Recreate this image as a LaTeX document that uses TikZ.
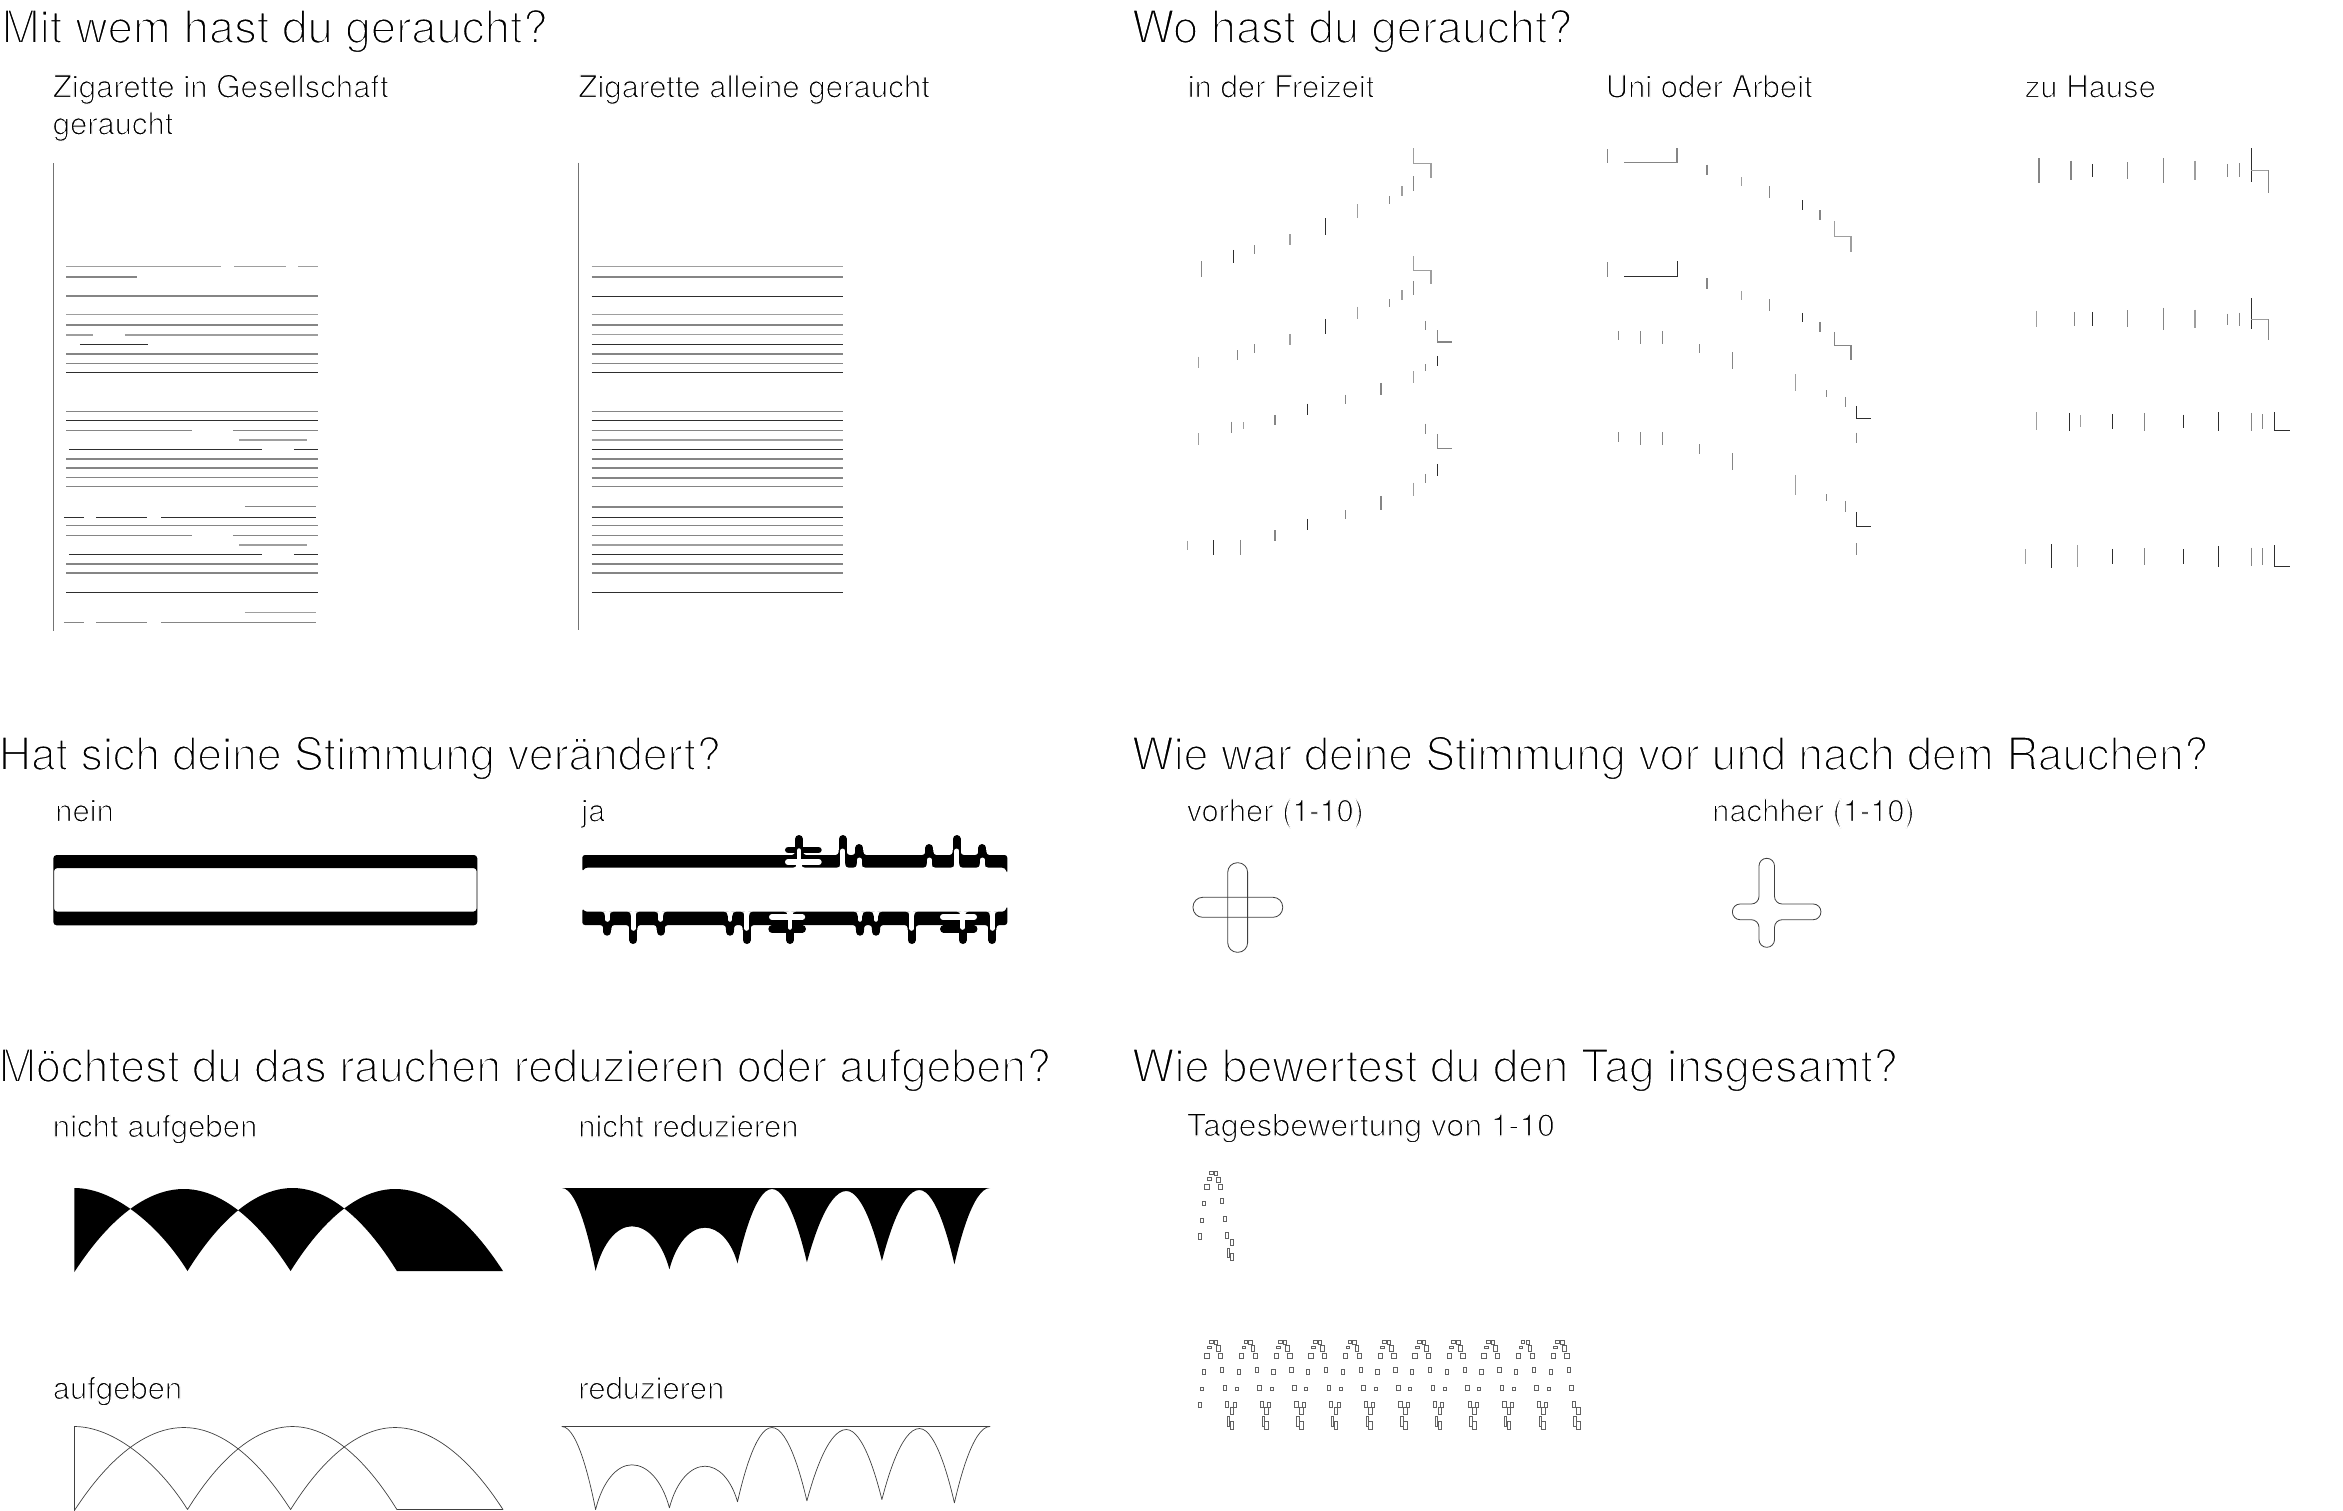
\documentclass[tikz,border=0pt]{standalone}
\usepackage{fontspec}
\setmainfont{TeX Gyre Heros}
\newcommand\thinhead{\special{pdf:code 2 Tr 1 1 1 RG 1.6 w}}
\newcommand\thinsub{\special{pdf:code 2 Tr 1 1 1 RG 0.95 w}}
\newcommand\archleft{(74.4,1188) .. controls (114,1188) and (159.2,1225.4) .. (187.5,1271)
  parabola bend (292.5,1188) (396.9,1271) -- (503,1271)
  parabola bend (395,1189) (290.6,1271) parabola bend (183.8,1189) (74.4,1272) -- cycle}
\newcommand\archright{(561.9,1188) -- (990,1188) parabola[bend at start] (954.4,1264.3)
  parabola bend (919.4,1190) (881.9,1261) parabola bend (846.3,1191) (806.9,1262.3)
  parabola bend (771.9,1189) (737.5,1263.3)
  .. controls (731,1240.2) and (718,1227.7) .. (705,1227.7)
  .. controls (690.8,1227.7) and (676.5,1242.3) .. (669.4,1269.3)
  .. controls (661.9,1241.3) and (646.9,1226.3) .. (631.9,1226.3)
  .. controls (617.4,1226.3) and (602.9,1241.9) .. (595.6,1271)
  parabola[bend at end] (561.9,1188) -- cycle}
\newcommand\dayshape[2]{\foreach \cx/\cy/\wd/\ht in {93/69/11/10, 107/70/10/13, 87/86/11/8, 114/89/11/17,
    80/111/13/15, 121/110/13/15, 72/160/10/14, 126/153/10/16, 66/210/9/11, 134/207/11/16,
    59/258/9/17, 141/256/10/19, 155/277/11/19, 145/308/7/29, 155/320/11/23}
    {\draw[daybox] ({\cx-\wd/2+#1},{\cy-\ht/2+#2}) rectangle ++(\wd,\ht);}}
\begin{document}
\begin{tikzpicture}[x=0.03cm, y=-0.03cm,
    head/.style = {anchor=base west, inner sep=0pt, transform shape, font=\fontsize{38.9}{46}\selectfont\thinhead},
    sub/.style  = {anchor=base west, inner sep=0pt, transform shape, font=\fontsize{26.5}{36}\selectfont\thinsub},
    dk/.style   = {line width=0.65pt, black!82},
    md/.style   = {line width=1pt, black!48},
    lt/.style   = {line width=1.2pt, black!38},
    axisline/.style = {line width=1pt, black!55},
    daybox/.style   = {line width=0.55pt, black!62},
    crossline/.style = {line width=0.7pt, black!75},
    archline/.style  = {line width=0.6pt, black!75, line join=round},
    bump/.style = {line width=0.24cm, line cap=round},
    slot/.style = {line width=0.135cm, line cap=round, white},
  ]
    \useasboundingbox (0,0) rectangle (2343,1511);

    \node[head] (headwho)                 at (1.5,43)    {Mit wem hast du geraucht?};
    \node[head, xscale=0.993] (headwhere)  at (1131.5,43) {Wo hast du geraucht?};
    \node[head, xscale=0.98]  (headmood)   at (-1.5,770)  {Hat sich deine Stimmung verändert?};
    \node[head, xscale=0.977] (headbefore) at (1131.5,770) {Wie war deine Stimmung vor und nach dem Rauchen?};
    \node[head, xscale=0.984] (headquit)   at (-1.5,1082) {Möchtest du das rauchen reduzieren oder aufgeben?};
    \node[head, xscale=0.992] (headday)    at (1131.5,1082) {Wie bewertest du den Tag insgesamt?};

    \node[sub, xscale=1.005] (company)  at (52.5,97.5) {Zigarette in Gesellschaft};
    \node[sub] (company2) at (52.5,134.5) {geraucht};
    \node[sub, xscale=1.008] (alone)    at (578,97.5)   {Zigarette alleine geraucht};
    \node[sub] (freetime) at (1187.5,97.5) {in der Freizeit};
    \node[sub] (work)     at (1605.5,97.5) {Uni oder Arbeit};
    \node[sub] (home)     at (2024.5,97.5) {zu Hause};
    \node[sub] (moodno)   at (55,821.5)   {nein};
    \node[sub] (moodyes)  at (581,821.5)  {ja};
    \node[sub, xscale=0.99] (before)   at (1186.5,821.5) {vorher (1-10)};
    \node[sub, xscale=0.995] (after)    at (1712,821.5) {nachher (1-10)};
    \node[sub, xscale=1.005] (notquit)  at (52.5,1137)  {nicht aufgeben};
    \node[sub] (notless)  at (578,1137) {nicht reduzieren};
    \node[sub] (quit)     at (52.5,1399)  {aufgeben};
    \node[sub] (less)     at (578,1399) {reduzieren};
    \node[sub, xscale=1.03] (rating)   at (1186.5,1136) {Tagesbewertung von 1-10};

    % company lines
    \begin{scope}[shift={(0,140)}, xscale=0.3571, yscale=0.3333]
      \draw[axisline] (150,70) -- (150,1472);
      \foreach \a/\b/\y/\s in {186/620/380/lt, 656/802/380/lt, 835/890/380/lt, 186/385/411/md,
          186/890/468/md, 186/890/524/lt, 186/890/555/md, 186/260/585/lt, 350/890/585/lt,
          224/414/613/dk, 186/890/642/md, 186/890/670/md, 186/890/697/dk, 186/890/814/md,
          186/890/841/dk, 186/538/871/md, 652/890/871/md, 670/861/900/lt, 193/735/928/dk,
          823/890/928/dk, 186/890/957/md, 186/890/984/md, 186/890/1013/md, 186/890/1039/md,
          686/886/1100/md, 179/234/1132/dk, 269/413/1132/dk, 451/886/1132/dk, 186/890/1156/md,
          186/538/1186/md, 652/890/1186/md, 670/861/1215/lt, 193/735/1243/dk, 823/890/1243/dk,
          186/890/1272/md, 186/890/1299/md, 186/890/1357/dk, 686/886/1418/lt, 179/234/1448/md,
          269/413/1448/md, 451/886/1448/md}
        {\draw[\s] (\a,\y) -- (\b,\y);}
    \end{scope}

    % alone lines
    \begin{scope}[shift={(570,250)}, scale=0.3333]
      \draw[axisline] (25,-262) -- (25,1140);
      \foreach \y/\s in {50/lt, 81/md, 139/dk, 194/lt, 225/md, 254/lt, 283/dk, 312/md, 340/md,
          367/dk, 484/md, 511/dk, 541/md, 570/lt, 598/dk, 627/md, 654/md, 684/md, 710/md,
          771/md, 802/dk, 826/md, 856/md, 885/lt, 913/dk, 942/md, 969/md, 1027/dk}
        {\draw[\s] (65,\y) -- (820,\y);}
    \end{scope}

    % free time ticks
    \begin{scope}[shift={(1150,120)}, xscale=0.3954, yscale=0.3333]
      \foreach \x/\a/\b/\s in {130/424/472/md, 211/390/430/dk, 265/376/402/md, 354/343/376/lt,
          444/295/344/dk, 525/253/293/lt, 606/228/253/md, 637/199/227/lt, 667/169/213/md,
          122/710/743/lt, 221/691/719/md, 265/673/700/md, 354/642/674/lt, 444/597/641/dk,
          525/560/596/lt, 606/538/561/md, 637/511/539/lt, 667/483/525/md,
          122/940/974/lt, 207/905/938/md, 236/907/928/lt, 316/885/915/md, 398/851/885/dk,
          495/824/851/md, 584/789/825/md, 667/754/788/lt, 696/733/754/md, 727/708/738/dk,
          696/603/631/md, 95/1262/1290/lt, 160/1261/1306/dk, 229/1260/1305/md, 316/1231/1262/md,
          398/1197/1230/dk, 495/1171/1197/md, 584/1128/1169/md, 667/1088/1128/lt,
          696/1062/1088/md, 727/1032/1068/dk, 696/911/942/md}
        {\draw[\s] (\x,\a) -- (\x,\b);}
      \draw[lt] (667,85) -- (667,130) -- (711,130) -- (711,175);
      \draw[lt] (667,409) -- (667,451) -- (711,451) -- (711,491);
      \draw[md] (727,631) -- (727,666) -- (765,666);
      \draw[md] (727,942) -- (727,985) -- (765,985);
    \end{scope}

    % work and home ticks
    \begin{scope}[shift={(1580,120)}, xscale=0.4847, yscale=0.3333]
      \foreach \x/\a/\b/\s in {56/88/130/md, 262/134/164/md, 333/172/198/lt, 391/198/233/md,
          459/241/269/dk, 495/271/301/md, 56/427/472/md, 262/475/507/md, 333/513/539/lt,
          391/538/573/md, 459/579/606/dk, 495/606/635/md, 79/633/661/md, 125/633/672/md,
          170/633/672/md, 246/673/698/md, 315/697/746/md, 444/763/812/lt, 508/811/831/md,
          548/831/860/md, 571/938/970/md, 79/937/965/md, 125/937/974/md, 170/937/974/md,
          246/973/1001/md, 315/1000/1049/md, 444/1065/1124/lt, 508/1123/1143/md,
          548/1143/1176/md, 571/1270/1306/md,
          947/115/189/md, 1013/122/181/md, 1057/132/172/dk, 1130/127/177/md, 1203/114/189/md,
          1269/122/181/lt, 1336/132/172/md, 1361/130/172/md, 1385/85/187/dk,
          942/572/622/lt, 1021/576/618/md, 1057/576/618/dk, 1130/571/621/md, 1203/563/631/md,
          1269/569/624/lt, 1336/581/614/md, 1361/578/617/md, 1385/535/627/dk,
          942/877/931/lt, 1010/879/932/dk, 1032/886/921/lt, 1099/882/926/dk, 1165/879/932/md,
          1245/884/924/dk, 1317/877/932/dk, 1385/879/932/md, 1408/883/928/md,
          919/1288/1332/lt, 972/1273/1343/dk, 1026/1275/1340/lt, 1099/1287/1332/dk,
          1165/1285/1334/md, 1245/1288/1332/dk, 1317/1278/1340/dk, 1385/1283/1337/md,
          1408/1285/1334/md}
        {\draw[\s] (\x,\a) -- (\x,\b);}
      \draw[md] (91,127) -- (200,127) -- (200,85);
      \draw[dk] (91,468) -- (200,468) -- (200,424);
      \draw[lt] (525,304) -- (525,349) -- (559,349) -- (559,396);
      \draw[md] (525,636) -- (525,677) -- (559,677) -- (559,719);
      \draw[dk] (570,858) -- (570,895) -- (600,895);
      \draw[dk] (570,1176) -- (570,1219) -- (600,1219);
      \draw[lt] (1385,151) -- (1420,151);
      \draw[md] (1420,151) -- (1420,218);
      \draw[lt] (1385,598) -- (1420,598);
      \draw[md] (1420,598) -- (1420,659);
      \draw[dk] (1433,877) -- (1433,931) -- (1465,931);
      \draw[dk] (1433,1276) -- (1433,1339) -- (1465,1339);
    \end{scope}

    % mood bars
    \fill[even odd rule, rounded corners=0.1cm] (53.3,855) rectangle (477.3,925.3)
      (54,868) rectangle (476.7,911.7);

    \fill[rounded corners=0.08cm] (582.3,871.7) -- (582.3,855) -- (1007.3,855) -- (1007.3,873.7)
      -- (1005,867.7) -- (584.5,867.7) -- cycle;
    \fill[rounded corners=0.08cm] (582.3,908.3) -- (582.3,925) -- (1007.3,925) -- (1007.3,905.7)
      -- (1005,911.7) -- (584.5,911.7) -- cycle;
    \foreach \x/\t in {799/835, 842.7/835, 859.3/844, 929.3/844, 956.7/835, 982.3/844}
      {\draw[bump] (\x,\t+4) -- (\x,860);
       \fill (\x-8,855.5) .. controls (\x-5,855.5) and (\x-4,853.5) .. (\x-4,850)
         -- (\x+4,850) .. controls (\x+4,853.5) and (\x+5,855.5) .. (\x+8,855.5) -- cycle;}
    \foreach \x/\b in {607.3/935.7, 633.3/944, 660.7/935.7, 730/935.7, 746.7/944, 790/944,
        860/935.7, 876/935.7, 911.7/944, 962.7/944, 992.3/944}
      {\draw[bump] (\x,920) -- (\x,\b-4);
       \fill (\x-8,924.5) .. controls (\x-5,924.5) and (\x-4,926.5) .. (\x-4,930)
         -- (\x+4,930) .. controls (\x+4,926.5) and (\x+5,924.5) .. (\x+8,924.5) -- cycle;}
    \draw[bump, line width=0.2cm] (788.3,850) -- (818.4,850);
    \draw[bump, line width=0.22cm] (772,929) -- (802.3,929);
    \draw[bump, line width=0.22cm] (943.7,929) -- (973.8,929);
    \foreach \x/\s in {799/848, 842.7/848.3, 859.3/857.3, 929.3/857.3, 956.7/848.3, 982.3/857.3}
      {\draw[slot] (\x,\s+2.5) -- (\x,866);
       \fill[white] (\x-6,868) .. controls (\x-3.5,868) and (\x-2.25,866) .. (\x-2.25,863)
         -- (\x+2.25,863) .. controls (\x+2.25,866) and (\x+3.5,868) .. (\x+6,868) -- cycle;}
    \foreach \x/\s in {607.3/922, 633.3/931, 660.7/922, 730/922, 746.7/931, 790/930,
        860/922, 876/922, 911.7/931, 962.7/930, 992.3/931}
      {\draw[slot] (\x,913) -- (\x,\s-2.5);
       \fill[white] (\x-6,911.4) .. controls (\x-3.5,911.4) and (\x-2.25,913.4) .. (\x-2.25,916)
         -- (\x+2.25,916) .. controls (\x+2.25,913.4) and (\x+3.5,911.4) .. (\x+6,911.4) -- cycle;}
    \draw[slot, line width=0.18cm] (788,862) -- (818.7,862);
    \draw[slot, line width=0.18cm] (772,917) -- (802.2,917);
    \draw[slot, line width=0.18cm] (943,917) -- (974,917);

    % crosses
    \draw[crossline, rounded corners=0.29cm] (1227.7,862.7) rectangle (1247.6,952.3);
    \draw[crossline, rounded corners=0.29cm] (1193,897.3) rectangle (1282.7,917.3);
    \draw[crossline, rounded corners=0.23cm] (1759,858.3) -- (1774.5,858.3) -- (1774.5,904)
      -- (1820.9,904) -- (1820.9,919.7) -- (1774.5,919.7) -- (1774.5,947.3) -- (1759,947.3)
      -- (1759,919.7) -- (1732.4,919.7) -- (1732.4,904) -- (1759,904) -- cycle;

    % arches
    \fill \archleft;
    \fill \archright;
    \begin{scope}[yshift=-7.155cm]
      \draw[archline] \archleft;
      \draw[archline] \archright;
    \end{scope}

    % day rating
    \begin{scope}[shift={(1180,1150)}, scale=0.3333]
      \dayshape{0}{0}
      \foreach \k in {0,...,10}
        {\dayshape{\k*104}{506}}
    \end{scope}
  \end{tikzpicture}
\end{document}
